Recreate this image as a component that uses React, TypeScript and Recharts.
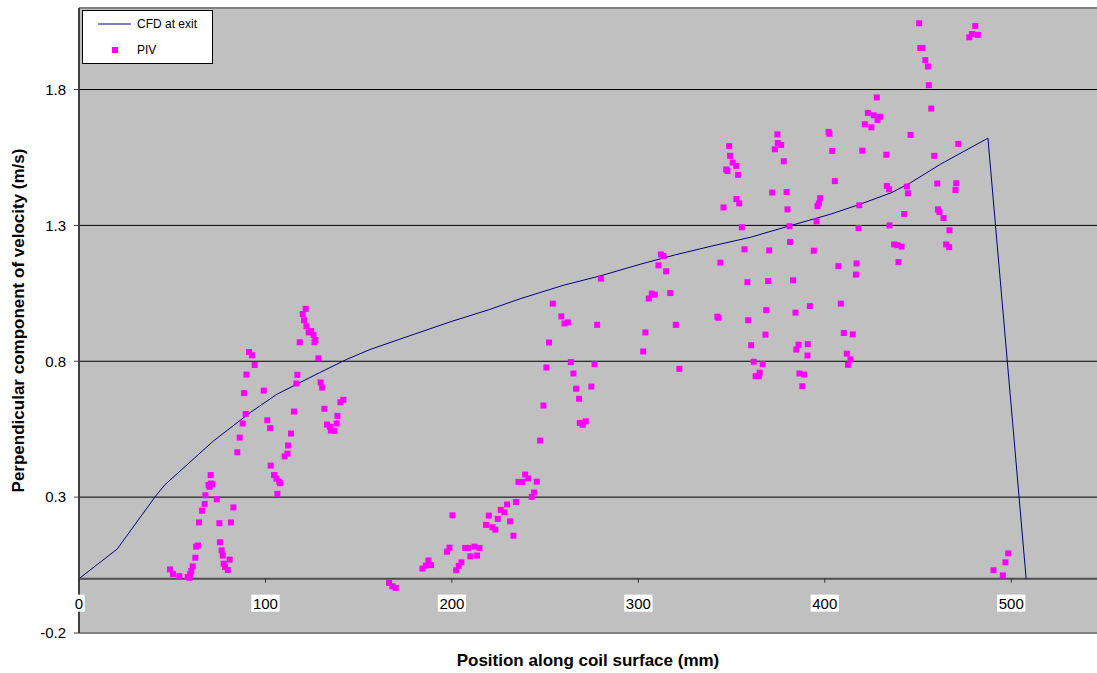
import {
  ComposedChart,
  Line,
  Scatter,
  XAxis,
  YAxis,
  CartesianGrid,
  ReferenceLine,
  ReferenceDot,
  Legend,
  Label,
} from "recharts";

// CFD profile along the coil exit (mm, m/s)
const cfdPosition = [
  0, 20.5, 41, 46, 72, 92, 106, 129, 143.6, 156, 180, 200, 220, 236.6, 260,
  280, 301, 320, 340, 360, 381, 403, 419, 436, 446, 462, 487.5, 508,
];
const cfdVelocity = [
  0, 0.109, 0.303, 0.345, 0.506, 0.612, 0.678, 0.758, 0.807, 0.843, 0.9,
  0.947, 0.99, 1.03, 1.08, 1.115, 1.157, 1.192, 1.225, 1.256, 1.298, 1.341,
  1.378, 1.421, 1.457, 1.525, 1.621, 0,
];

// PIV measurements [position mm, velocity m/s]
const pivPoints: [number, number][] = [
  [48.8, 0.034], [50.4, 0.017], [53.8, 0.009], [58.3, 0.006], [59.3, 0.003],
  [59.6, 0.016], [60.2, 0.028], [61.0, 0.045], [62.4, 0.077], [62.8, 0.118],
  [63.8, 0.122], [64.4, 0.207], [66.0, 0.25], [67.4, 0.275], [67.8, 0.307],
  [69.5, 0.345], [70.0, 0.338], [70.6, 0.381], [70.8, 0.35], [71.6, 0.347],
  [73.9, 0.292], [75.3, 0.204], [75.6, 0.134], [76.5, 0.104], [77.1, 0.085],
  [77.6, 0.055], [78.3, 0.043], [79.8, 0.032], [80.8, 0.07], [81.5, 0.207],
  [82.8, 0.262],
  [84.9, 0.465], [86.2, 0.519], [87.8, 0.571], [88.5, 0.683], [89.4, 0.606],
  [89.8, 0.751], [91.2, 0.834], [92.8, 0.822], [94.2, 0.786], [99.1, 0.692],
  [101.0, 0.583], [102.5, 0.554], [102.8, 0.416], [104.6, 0.381], [105.9, 0.368],
  [106.4, 0.312], [107.4, 0.357], [107.9, 0.351],
  [110.3, 0.45], [111.8, 0.46], [112.1, 0.49], [113.7, 0.534], [115.3, 0.615],
  [116.6, 0.718], [117.1, 0.75], [118.4, 0.87], [120.0, 0.974], [120.7, 0.951],
  [121.6, 0.993], [122.0, 0.929], [123.2, 0.906], [124.5, 0.911], [125.8, 0.897],
  [126.3, 0.87], [126.8, 0.878], [128.4, 0.811], [129.6, 0.722], [130.4, 0.703],
  [131.6, 0.625], [133.0, 0.567], [134.6, 0.559], [135.1, 0.545], [137.0, 0.544],
  [138.2, 0.571], [138.6, 0.599], [140.2, 0.649], [141.8, 0.658],
  [166.3, -0.016], [168.1, -0.028], [169.9, -0.034],
  [184.2, 0.037], [186.0, 0.048], [187.4, 0.067], [188.8, 0.05], [197.3, 0.099],
  [198.7, 0.114], [200.3, 0.233], [202.3, 0.031], [203.7, 0.047], [205.1, 0.06],
  [207.1, 0.113], [208.8, 0.113], [209.9, 0.082], [212.1, 0.118], [213.5, 0.085],
  [214.8, 0.113], [218.3, 0.198], [219.8, 0.232], [221.7, 0.189], [223.3, 0.18],
  [224.6, 0.22], [226.2, 0.253], [228.2, 0.244], [229.6, 0.273], [231.2, 0.211],
  [233.0, 0.158], [234.4, 0.282], [235.7, 0.356], [237.8, 0.356], [239.3, 0.383],
  [240.9, 0.369], [242.8, 0.301], [244.1, 0.317], [245.5, 0.357],
  [247.3, 0.508], [249.1, 0.637], [250.7, 0.777], [252.1, 0.869], [254.1, 1.012],
  [258.7, 0.965], [260.4, 0.939], [262.2, 0.943], [263.8, 0.797], [265.2, 0.755],
  [266.6, 0.699], [268.2, 0.662], [268.6, 0.573], [270.2, 0.566], [271.8, 0.579],
  [274.8, 0.707], [276.5, 0.789], [277.9, 0.934], [279.9, 1.104],
  [302.6, 0.836], [303.8, 0.906], [305.6, 1.031], [307.2, 1.049], [308.8, 1.045],
  [310.8, 1.153], [312.1, 1.193], [313.5, 1.187], [314.9, 1.131], [317.1, 1.051],
  [320.1, 0.934], [322.0, 0.772],
  [342.4, 0.964], [343.0, 0.96], [344.0, 1.163], [345.7, 1.366], [347.1, 1.506],
  [347.8, 1.5], [348.7, 1.592], [349.2, 1.556], [350.6, 1.531], [352.5, 1.519],
  [352.6, 1.397], [353.5, 1.486], [354.1, 1.381], [355.5, 1.293], [356.9, 1.212],
  [358.5, 1.091], [358.9, 0.951], [360.5, 0.859], [361.9, 0.798], [362.9, 0.745],
  [364.6, 0.745], [365.1, 0.758], [366.7, 0.789], [368.2, 0.898], [368.6, 0.988],
  [369.6, 1.095], [370.2, 1.208], [371.8, 1.421], [373.2, 1.58], [374.6, 1.635],
  [374.8, 1.603], [376.6, 1.596], [378.0, 1.536], [379.5, 1.423], [380.0, 1.359],
  [381.1, 1.297], [381.4, 1.239], [383.0, 1.098], [384.3, 0.979], [384.7, 0.843],
  [385.9, 0.861], [386.4, 0.755], [387.9, 0.708], [389.0, 0.751], [390.7, 0.821],
  [390.9, 0.863], [392.0, 1.003],
  [394.1, 1.207], [395.6, 1.315], [396.1, 1.371], [396.8, 1.381], [397.5, 1.4],
  [402.0, 1.644], [402.5, 1.637], [404.0, 1.574], [405.4, 1.463], [407.3, 1.15],
  [408.6, 1.012], [410.2, 0.904], [411.8, 0.828], [412.4, 0.787], [413.8, 0.807],
  [415.0, 0.899], [416.7, 1.119], [417.0, 1.16], [418.1, 1.29], [418.5, 1.374],
  [420.1, 1.575],
  [421.5, 1.672], [423.1, 1.714], [425.0, 1.661], [426.3, 1.705], [427.9, 1.771],
  [428.3, 1.688], [429.7, 1.7], [433.0, 1.56], [433.3, 1.445], [434.5, 1.433],
  [434.7, 1.3], [437.2, 1.23], [439.0, 1.227], [439.5, 1.165], [441.2, 1.222],
  [442.6, 1.342], [444.0, 1.443], [444.6, 1.418], [446.0, 1.633],
  [450.6, 2.044], [451.2, 1.953], [452.4, 1.953], [453.9, 1.908], [455.3, 1.885],
  [455.8, 1.816], [457.1, 1.73], [458.7, 1.556], [460.3, 1.454], [460.7, 1.359],
  [461.5, 1.349], [463.7, 1.327], [465.1, 1.23], [466.7, 1.22], [466.9, 1.282],
  [470.1, 1.43], [470.5, 1.455], [471.6, 1.6], [477.5, 1.992], [478.9, 2.004],
  [480.7, 2.034], [482.1, 2.001],
  [490.5, 0.031], [495.5, 0.012], [496.9, 0.06], [498.4, 0.093],
];

const xTicks = [0, 100, 200, 300, 400, 500];
const yTicks = [-0.2, 0.3, 0.8, 1.3, 1.8];

const FONT = "'Liberation Sans', Arial, sans-serif";
const CFD_COLOR = "#000080";
const PIV_COLOR = "#FF00FF";

const cfdData = cfdPosition.map((x, i) => ({ x, y: cfdVelocity[i] }));
const pivData = pivPoints.map(([x, y]) => ({ x, y }));

const titleStyle = {
  fontFamily: FONT,
  fontWeight: "bold",
  fontSize: 17,
  fill: "#000",
};

function PivSquare(props: any) {
  const { cx, cy } = props;
  if (cx == null || cy == null) return null;
  return <rect x={cx - 3} y={cy - 3} width={6} height={6} fill={PIV_COLOR} />;
}

// tick + boxed label for the x axis, which crosses at y = 0
function xTickShape(value: number) {
  return (props: any) => {
    const { cx, cy } = props;
    const text = String(value);
    const w = text.length * 8.4 + 3;
    return (
      <g>
        <line x1={cx} y1={cy} x2={cx} y2={cy + 4} stroke="#333" strokeWidth={1} />
        <rect x={cx - w / 2} y={cy + 16} width={w} height={17} fill="#fff" />
        <text
          x={cx}
          y={cy + 30}
          textAnchor="middle"
          fontSize={15}
          fontFamily={FONT}
          fill="#000"
        >
          {text}
        </text>
      </g>
    );
  };
}

function LegendBox() {
  return (
    <svg width={132} height={55} style={{ display: "block" }}>
      <rect x={0.5} y={0.5} width={130} height={53} fill="#fff" stroke="#000" />
      <line x1={16} y1={14} x2={49} y2={14} stroke={CFD_COLOR} strokeWidth={1} />
      <text x={55} y={18} fontSize={12} fontFamily={FONT} fill="#000">
        CFD at exit
      </text>
      <rect x={30} y={37} width={6} height={6} fill={PIV_COLOR} />
      <text x={55} y={44} fontSize={12} fontFamily={FONT} fill="#000">
        PIV
      </text>
    </svg>
  );
}

export default function App() {
  return (
    <div style={{ position: "absolute", left: 0, top: 0, background: "#fff" }}>
      <ComposedChart
        width={1097}
        height={673}
        margin={{ top: 8, right: 0, bottom: 0, left: 0 }}
      >
        <CartesianGrid
          vertical={false}
          stroke="#000"
          fill="#C0C0C0"
          fillOpacity={1}
        />
        <XAxis
          type="number"
          dataKey="x"
          domain={[0, 546]}
          ticks={xTicks}
          allowDataOverflow
          height={40}
          tick={false}
          tickLine={false}
          axisLine={false}
        >
          <Label
            value="Position along coil surface (mm)"
            position="insideBottom"
            offset={7}
            style={titleStyle}
          />
        </XAxis>
        <YAxis
          type="number"
          dataKey="y"
          domain={[-0.2, 2.1]}
          ticks={yTicks}
          allowDataOverflow
          width={79}
          tickSize={5}
          tickMargin={8}
          tickFormatter={(v: number) => v.toFixed(1)}
          axisLine={{ stroke: "#404040", strokeWidth: 2 }}
          tickLine={{ stroke: "#404040" }}
          tick={{ fontSize: 15, fontFamily: FONT, fill: "#000" }}
        >
          <Label
            value="Perpendicular component of velocity (m/s)"
            angle={-90}
            position="insideLeft"
            offset={18}
            textAnchor="middle"
            style={{ ...titleStyle, textAnchor: "middle" }}
          />
        </YAxis>
        <ReferenceLine y={2.1} stroke="#808080" strokeWidth={2} />
        <ReferenceLine y={-0.2} stroke="#808080" strokeWidth={2} />
        <ReferenceLine y={0} stroke="#4d4d4d" strokeWidth={2} />
        {xTicks.map((t) => (
          <ReferenceDot key={t} x={t} y={0} shape={xTickShape(t)} />
        ))}
        <Line
          data={cfdData}
          dataKey="y"
          type="linear"
          stroke={CFD_COLOR}
          strokeWidth={1}
          dot={false}
          activeDot={false}
          isAnimationActive={false}
          name="CFD at exit"
        />
        <Scatter
          data={pivData}
          dataKey="y"
          shape={PivSquare}
          isAnimationActive={false}
          name="PIV"
        />
        <Legend
          layout="vertical"
          align="center"
          verticalAlign="middle"
          content={() => <LegendBox />}
          wrapperStyle={{ left: 82, top: 10, width: 132, height: 55 }}
        />
      </ComposedChart>
    </div>
  );
}
